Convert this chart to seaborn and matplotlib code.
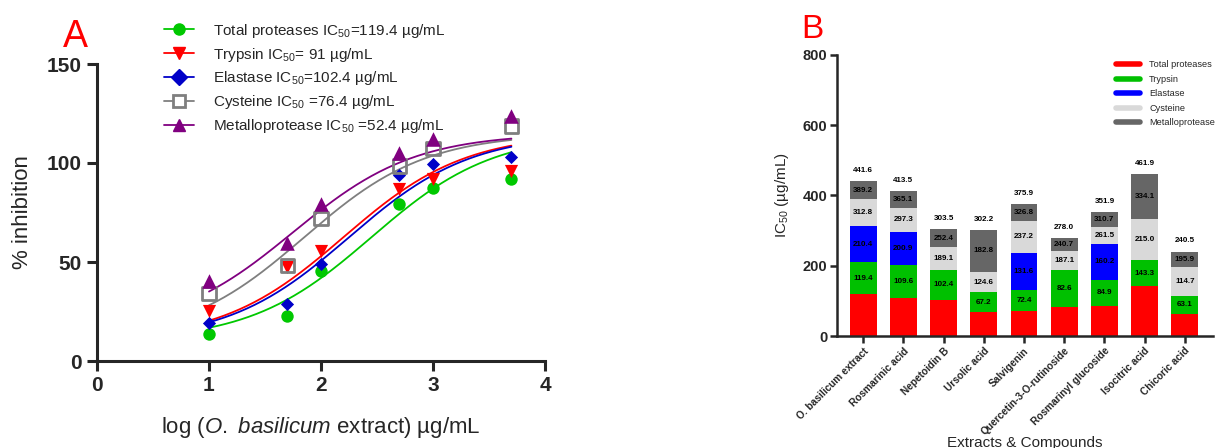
import numpy as np
import pandas as pd
import seaborn as sns
import matplotlib.pyplot as plt
from matplotlib.lines import Line2D

# ---- panel A data: % inhibition vs log concentration ----
log_conc = [1.0, 1.699, 2.0, 2.699, 3.0, 3.699]
total_inh = [13.8, 22.5, 45.7, 79.3, 87.5, 91.8]
trypsin_inh = [25.5, 47.4, 55.8, 86.9, 91.8, 96.0]
elastase_inh = [19.2, 28.9, 49.0, 94.0, 99.3, 103.0]
cysteine_inh = [34.0, 48.2, 72.1, 98.5, 107.2, 118.7]
metallo_inh = [40.3, 59.5, 79.3, 105.2, 112.0, 123.7]

# fitted 4PL curves (bottom, top, midpoint, hill)
fit_bottom = [10, 10, 10, 10, 15]
fit_top = [115, 115, 115, 115, 115]
fit_mid = [2.45, 2.2, 2.25, 1.85, 1.75]
fit_hill = [0.8, 0.8, 0.8, 0.8, 0.8]

legend_a = ["Total proteases IC$_{50}$=119.4 µg/mL",
            "Trypsin IC$_{50}$= 91 µg/mL",
            "Elastase IC$_{50}$=102.4 µg/mL",
            "Cysteine IC$_{50}$ =76.4 µg/mL",
            "Metalloprotease IC$_{50}$ =52.4 µg/mL"]

# ---- panel B data: cumulative IC50 (stacked) ----
compounds = ["O. basilicum extract", "Rosmarinic acid", "Nepetoidin B", "Ursolic acid",
             "Salvigenin", "Quercetin-3-O-rutinoside", "Rosmarinyl glucoside",
             "Isocitric acid", "Chicoric acid"]
top_total_prot = [119.4, 109.6, 102.4, 67.2, 72.4, 82.6, 84.9, 143.3, 63.1]
top_trypsin = [210.4, 200.9, 189.1, 124.6, 131.6, 187.1, 160.2, 215.0, 114.7]
top_elastase = [312.8, 297.3, np.nan, np.nan, 237.2, np.nan, 261.5, np.nan, np.nan]
top_cysteine = [389.2, 365.1, 252.4, 182.8, 326.8, 240.7, 310.7, 334.1, 195.9]
top_metallo = [441.6, 413.5, 303.5, 302.2, 375.9, 278.0, 351.9, 461.9, 240.5]
legend_b = ["Total proteases", "Trypsin", "Elastase", "Cysteine", "Metalloprotease"]

sns.set_style("ticks")
plt.rcParams['font.family'] = ['Liberation Sans', 'DejaVu Sans']
plt.rcParams['mathtext.fontset'] = 'custom'
plt.rcParams['mathtext.rm'] = 'Liberation Sans'
plt.rcParams['mathtext.it'] = 'Liberation Sans:italic'
plt.rcParams['mathtext.default'] = 'regular'

fig = plt.figure(figsize=(12.2, 4.48), dpi=100)
axA = fig.add_axes([97/1220, 87/448, 448/1220, 297/448])
axB = fig.add_axes([837/1220, 112/448, 376/1220, 281/448])

# ---------------- panel A ----------------
colsA = ["#00c800", "#ff0000", "#0000c8", "#7f7f7f", "#800080"]
marks = ["o", "v", "D", "s", "^"]
msize = [80, 90, 45, 90, 110]
series = [total_inh, trypsin_inh, elastase_inh, cysteine_inh, metallo_inh]

xs = np.linspace(1, 3.7, 200)
for i in range(5):
    curve = fit_bottom[i] + (fit_top[i] - fit_bottom[i]) / (1 + 10 ** ((fit_mid[i] - xs) * fit_hill[i]))
    sns.lineplot(x=xs, y=curve, color=colsA[i], lw=1.3, ax=axA)
for i in range(5):
    if marks[i] == "s":
        sns.scatterplot(x=log_conc, y=series[i], marker="s", s=msize[i], facecolor="none",
                        edgecolor=colsA[i], linewidth=2, ax=axA, zorder=3)
    else:
        sns.scatterplot(x=log_conc, y=series[i], marker=marks[i], s=msize[i], color=colsA[i],
                        linewidth=0, ax=axA, zorder=3)

axA.set_xlim(0, 4)
axA.set_ylim(0, 150)
axA.set_xticks([0, 1, 2, 3, 4])
axA.set_yticks([0, 50, 100, 150])
for lab in axA.get_xticklabels() + axA.get_yticklabels():
    lab.set_fontweight("bold")
axA.tick_params(labelsize=15, width=2.2, length=7, pad=4)
for s in ["left", "bottom"]:
    axA.spines[s].set_linewidth(2.2)
sns.despine(ax=axA)
axA.set_ylabel("% inhibition", fontsize=16, labelpad=10)
axA.set_xlabel("log ($\\it{O.}$ $\\it{basilicum}$ extract) µg/mL", fontsize=16, labelpad=14)

hA = []
for i in range(5):
    if marks[i] == "s":
        hA.append(Line2D([], [], color=colsA[i], marker="s", ms=8, mfc="white", mew=2, lw=1.3))
    else:
        hA.append(Line2D([], [], color=colsA[i], marker=marks[i], ms=8, lw=1.3))
fig.legend(hA, legend_a, loc="upper left", bbox_to_anchor=(150/1220, 1 - 8/448),
           frameon=False, fontsize=11.0, handlelength=2.0, labelspacing=0.38, handletextpad=1.2)
fig.text(75/1220, 1 - 37/448, "A", color="red", fontsize=27, ha="center", va="center")

# ---------------- panel B ----------------
colsB = ["#ff0000", "#00c000", "#0000ff", "#d9d9d9", "#666666"]
tops = [top_total_prot, top_trypsin, top_elastase, top_cysteine, top_metallo]
for i in [4, 3, 2, 1, 0]:
    df = pd.DataFrame({"compound": compounds, "value": tops[i]}).dropna()
    sns.barplot(data=df, x="compound", y="value", order=compounds, color=colsB[i],
                width=0.67, linewidth=0, saturation=1, ax=axB)

for j in range(len(compounds)):
    bounds = [0] + [t[j] for t in tops if not np.isnan(t[j])]
    for k in range(1, len(bounds)):
        if k < len(bounds) - 1:
            y = (bounds[k] + bounds[k + 1]) / 2
        else:
            y = bounds[k] + 30
        axB.text(j, y, f"{bounds[k]:.1f}", ha="center", va="center", fontsize=5.8,
                 fontweight="bold", color="black")

axB.set_xlim(-0.65, 8.7)
axB.set_ylim(0, 800)
axB.set_yticks([0, 200, 400, 600, 800])
for lab in axB.get_yticklabels():
    lab.set_fontweight("bold")
axB.tick_params(axis="y", labelsize=10.5, width=1.8, length=5, pad=2)
axB.tick_params(axis="x", width=1.8, length=5, pad=2)
axB.set_xticks(range(len(compounds)))
axB.set_xticklabels(compounds, rotation=45, ha="right", rotation_mode="anchor",
                    fontsize=7.3, fontweight="bold")
for s in ["left", "bottom"]:
    axB.spines[s].set_linewidth(1.8)
sns.despine(ax=axB)
axB.set_ylabel("IC$_{50}$ (µg/mL)", fontsize=11, labelpad=8)
axB.set_xlabel("Extracts & Compounds", fontsize=11)
axB.xaxis.set_label_coords(0.5, -0.355)

hB = [Line2D([], [], color=c, lw=4) for c in colsB]
fig.legend(hB, legend_b, loc="upper left", bbox_to_anchor=(1108/1220, 1 - 52/448),
           frameon=False, fontsize=6.6, handlelength=2.6, labelspacing=0.6, handletextpad=1.0)
fig.text(812/1220, 1 - 30/448, "B", color="red", fontsize=24, ha="center", va="center")

plt.savefig("out.png", dpi=100)
